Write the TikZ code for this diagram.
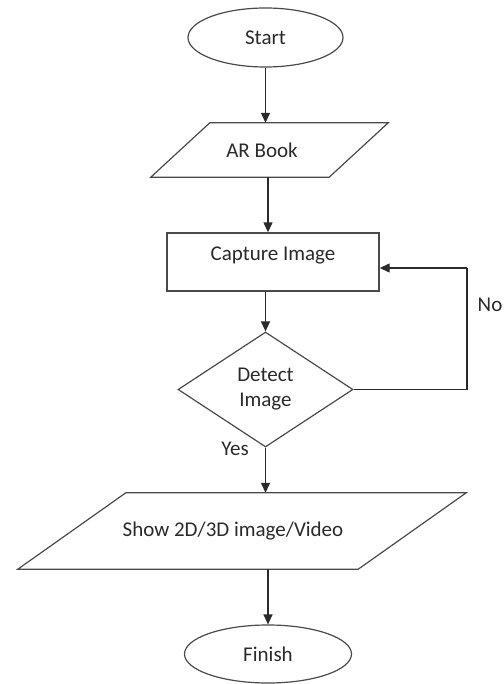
\documentclass[tikz,border=0pt]{standalone}
\usepackage{fontspec}
\setmainfont{Carlito}
\usetikzlibrary{shapes.geometric,arrows.meta}

\definecolor{edge}{HTML}{4A4A4A}
\definecolor{ink}{HTML}{2A2A2A}

\begin{document}
\begin{tikzpicture}[x=1pt,y=1pt,
  every node/.style={font=\fontsize{21}{25}\selectfont, text=ink},
  terminal/.style={ellipse, draw=edge, line width=1.2pt, inner sep=0pt},
  iobox/.style={draw=none, inner sep=0pt},
  stepbox/.style={rectangle, draw=edge, line width=1.4pt, inner sep=0pt},
  decision/.style={diamond, draw=edge, line width=1.2pt, inner sep=0pt, align=center},
  flow/.style={draw=ink, line width=1.3pt, -{Triangle[length=10pt,width=9pt]}},
  plain/.style={draw=ink, line width=1.3pt}]

\useasboundingbox (0,0) rectangle (503,-684);

% terminals
\node[terminal, minimum width=155pt, minimum height=59pt] (start) at (265.5,-37.5) {Start};
\node[terminal, minimum width=167pt, minimum height=58pt] (finish) at (268,-654) {Finish};

% input/output boxes: invisible frames carrying the text, outlined as parallelograms
\node[iobox, minimum width=178pt, minimum height=54pt] (ar) at (262,-150) {AR Book};
\draw[edge, line width=1.2pt]
  ([xshift=37pt]ar.north west) -- ([xshift=37pt]ar.north east)
  -- ([xshift=-22pt]ar.south east) -- ([xshift=-22pt]ar.south west) -- cycle;

\node[iobox, minimum width=340pt, minimum height=76pt] (show) at (233,-531) {Show 2D/3D image/Video};
\draw[edge, line width=1.2pt]
  ([xshift=63pt]show.north west) -- ([xshift=63pt]show.north east)
  -- ([xshift=-45pt]show.south east) -- ([xshift=-45pt]show.south west) -- cycle;

% process step, text set towards the top
\node[stepbox, minimum width=212pt, text height=27pt, text depth=31pt] (cap) at (273,-262) {Capture Image};

% decision
\node[decision, minimum width=175pt, minimum height=115pt] (dec) at (265.5,-389.5) {Detect\\Image};

% connectors
\draw[flow] (start.south) -- (start.south |- ar.north);
\draw[flow] ([xshift=6pt]ar.south) -- ([xshift=6pt]ar.south |- cap.north);
\draw[flow] (dec.north |- cap.south) -- (dec.north);
\draw[flow] (dec.south) -- (dec.south |- show.north);
\draw[flow] (finish.north |- show.south) -- (finish.north);

\coordinate (back) at (467,-268);
\draw[plain] (dec.east) -| (back);
\draw[flow] (back) -- (back -| cap.east);

% branch labels
\node (yes) at (235,-449) {Yes};
\node (no) at (490,-305) {No};
\end{tikzpicture}
\end{document}
